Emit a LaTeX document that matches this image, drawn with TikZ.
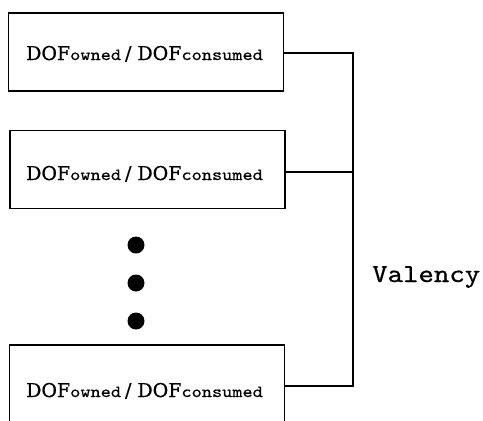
\documentclass[tikz,border=0pt]{standalone}
\usepackage{fontspec}
\setmainfont[FakeBold=0.8]{DejaVu Serif}
\newfontfamily\monofont[FakeStretch=1.14,FakeBold=0.6]{lmmono10-regular.otf}
\newcommand{\dofsub}[1]{{\monofont\fontsize{17}{18}\selectfont #1}}
\newcommand{\doftext}{DOF\dofsub{owned}\hspace{4pt}/\hspace{6pt}DOF\dofsub{consumed}}
\begin{document}
\begin{tikzpicture}[x=1pt,y=-1pt,
  dofbox/.style={draw,line width=1.8pt,minimum width=275pt,minimum height=78pt,inner sep=0pt},
  doflabel/.style={anchor=base west,inner sep=0pt,font=\fontsize{19}{21}\selectfont},
  wire/.style={line width=1.8pt},
  dotmark/.style={circle,fill=black,minimum size=17pt,inner sep=0pt}]
\clip (0,0) rectangle (483,421);
\useasboundingbox (0,0) rectangle (483,421);
\node[dofbox] (b1) at (146,52) {};
\node[dofbox] (b2) at (147.5,169.5) {};
\node[dofbox] (b3) at (147,384) {};
\node[doflabel] (t1) at (26,60) {\doftext};
\node[doflabel] (t2) at (26,180) {\doftext};
\node[doflabel] (t3) at (26,397) {\doftext};
\coordinate (c1) at (353,52.7);
\coordinate (c2) at (353,172);
\coordinate (c3) at (353,386);
\draw[wire] (b1.east |- c1) -- (c1) -- (c3) -- (b3.east |- c3);
\draw[wire] (b2.east |- c2) -- (c2);
\node[dotmark] (d1) at (136,245) {};
\node[dotmark] (d2) at (136,283) {};
\node[dotmark] (d3) at (136,321) {};
\node[anchor=base west,inner sep=0pt,font=\monofont\fontsize{25.8}{28}\selectfont] (val) at (372,282) {Valency};
\end{tikzpicture}
\end{document}
